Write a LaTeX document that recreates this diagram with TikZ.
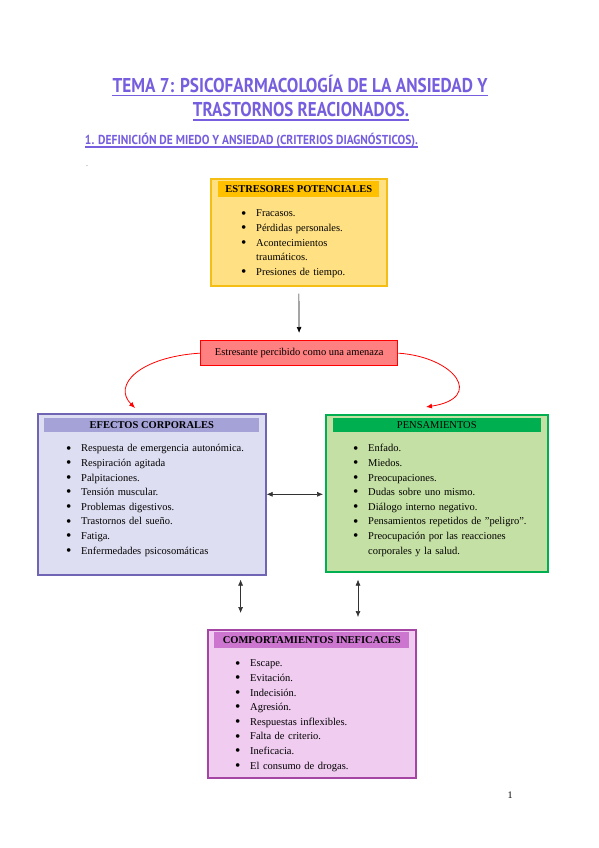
\documentclass[tikz,border=0pt]{standalone}
\usepackage{fontspec}
\setmainfont{Liberation Serif}
\newfontfamily\titlefont{PT Sans}
\usetikzlibrary{arrows.meta,calc,positioning}
\definecolor{tema}{RGB}{118,94,222}
\definecolor{estfill}{RGB}{255,224,130}
\definecolor{estdraw}{RGB}{245,190,20}
\definecolor{esthead}{RGB}{255,192,0}
\definecolor{amzfill}{RGB}{255,128,128}
\definecolor{efefill}{RGB}{222,222,242}
\definecolor{efedraw}{RGB}{112,100,180}
\definecolor{efehead}{RGB}{165,162,216}
\definecolor{penfill}{RGB}{197,224,164}
\definecolor{pendraw}{RGB}{0,176,80}
\definecolor{comfill}{RGB}{240,204,240}
\definecolor{comdraw}{RGB}{165,70,165}
\definecolor{comhead}{RGB}{204,118,208}
\newcommand\bul[1]{\par\noindent\makebox[15pt][l]{\raisebox{-1.3pt}{\scalebox{1.45}{\textbullet}}}#1}
\newcommand\cont[1]{\par\noindent\hspace*{15pt}#1}

\begin{document}
\begin{tikzpicture}[x=1pt, y=-1pt, >={Latex[length=6pt,width=5pt]},
 every node/.style={font=\fontsize{10}{12}\selectfont, inner sep=0pt},
 box/.style 2 args={draw, line width=1.6pt, minimum width=#1, minimum height=#2,
 anchor=north west},
 head/.style 2 args={minimum width=#1, minimum height=#2, anchor=north,
 font=\fontsize{10.5}{12}\selectfont\bfseries},
 lst/.style={text width=#1, align=left, anchor=north west,
 font=\fontsize{10.5}{14.6}\selectfont},
 ttl/.style={text=tema, anchor=base},
 uline/.style={draw=tema, line width=1.1pt},
 dbl/.style={<->, line width=0.6pt, black!80}]
\useasboundingbox (0,0) rectangle (599,848);
% title
\node[ttl] (t1) at (300,93) {\resizebox{375pt}{\height}{\fontsize{20}{20}\titlefont\bfseries TEMA 7: PSICOFARMACOLOGÍA DE LA ANSIEDAD Y}};
\node[ttl] (t2) at (301,116) {\resizebox{216pt}{\height}{\fontsize{20}{20}\titlefont\bfseries TRASTORNOS REACIONADOS.}};
\node[ttl] (t3) at (251.5,144) {\resizebox{333pt}{\height}{\fontsize{13}{13}\titlefont\bfseries 1. DEFINICIÓN DE MIEDO Y ANSIEDAD (CRITERIOS DIAGNÓSTICOS).}};
\draw[uline] ([yshift=-2.5pt]t1.base west) -- ([yshift=-2.5pt]t1.base east);
\draw[uline] ([yshift=-4pt]t2.base west) -- ([yshift=-4pt]t2.base east);
\draw[uline] ([yshift=-3pt]t3.base west) -- ([yshift=-3pt]t3.base east);
\node (dot) at (87,166) {\fontsize{6}{6}\selectfont .};
% estresores
\node[box={176pt}{107pt}, draw=estdraw, fill=estfill] (est) at (210,178) {};
\node[head={161pt}{16pt}, fill=esthead] (esth) at ([yshift=-3pt]est.north) {ESTRESORES POTENCIALES};
\node[lst=125pt] (estl) at ([xshift=31pt,yshift=-24pt]est.north west)
 {\bul{Fracasos.}\bul{Pérdidas personales.}\bul{Acontecimientos}\cont{traumáticos.}\bul{Presiones de tiempo.}};
% amenaza
\node[box={197pt}{25pt}, draw=red, fill=amzfill, line width=1.3pt] (amz) at (200,340) {};
\node[font=\fontsize{10.5}{12}\selectfont] (amzt) at (amz.center) {Estresante percibido como una amenaza};
% efectos
\node[box={228pt}{161pt}, draw=efedraw, fill=efefill] (efe) at (37,413) {};
\node[head={215pt}{14pt}, fill=efehead] (efeh) at ([yshift=-5pt]efe.north) {EFECTOS CORPORALES};
\node[lst=190pt] (efel) at ([xshift=29pt,yshift=-24pt]efe.north west)
 {\bul{Respuesta de emergencia autonómica.}\bul{Respiración agitada}\bul{Palpitaciones.}\bul{Tensión muscular.}\bul{Problemas digestivos.}\bul{Trastornos del sueño.}\bul{Fatiga.}\bul{Enfermedades psicosomáticas}};
% pensamientos
\node[box={222pt}{157pt}, draw=pendraw, fill=penfill] (pen) at (325,414) {};
\node[head={208pt}{14pt}, fill=pendraw, font=\fontsize{10.5}{12}\selectfont] (penh) at ([yshift=-4pt]pen.north) {PENSAMIENTOS};
\node[lst=190pt] (penl) at ([xshift=28pt,yshift=-23pt]pen.north west)
 {\bul{Enfado.}\bul{Miedos.}\bul{Preocupaciones.}\bul{Dudas sobre uno mismo.}\bul{Diálogo interno negativo.}\bul{Pensamientos repetidos de \symbol{34}peligro\symbol{34}.}\bul{Preocupación por las reacciones}\cont{corporales y la salud.}};
% comportamientos
\node[box={208pt}{148pt}, draw=comdraw, fill=comfill] (com) at (207,629) {};
\node[head={195pt}{16pt}, fill=comhead] (comh) at ([yshift=-3pt]com.north) {COMPORTAMIENTOS INEFICACES};
\node[lst=170pt] (coml) at ([xshift=28pt,yshift=-23pt]com.north west)
 {\bul{Escape.}\bul{Evitación.}\bul{Indecisión.}\bul{Agresión.}\bul{Respuestas inflexibles.}\bul{Falta de criterio.}\bul{Ineficacia.}\bul{El consumo de drogas.}};
\node (pag) at (510,795) {1};
% connectors
\coordinate (lend) at (135,408);
\coordinate (rend) at (426,407);
\draw[->, line width=0.7pt, shorten <=7pt, shorten >=7pt] (est.south) -- (amz.north);
\draw[->, red, line width=0.8pt] (amz.west) .. controls (140,357) and (112,385) .. (lend);
\draw[->, red, line width=0.8pt] (amz.east) .. controls (455,357) and (485,398) .. (rend);
\draw[dbl, shorten >=2pt] (efe.east) -- (efe.east -| pen.west);
\draw[dbl, shorten <=4pt, shorten >=16pt] ([xshift=-26pt]efe.south east) -- ([xshift=-26pt]efe.south east |- com.north);
\draw[dbl, shorten <=7pt, shorten >=12pt] ([xshift=33pt]pen.south west) -- ([xshift=33pt]pen.south west |- com.north);
\end{tikzpicture}
\end{document}
